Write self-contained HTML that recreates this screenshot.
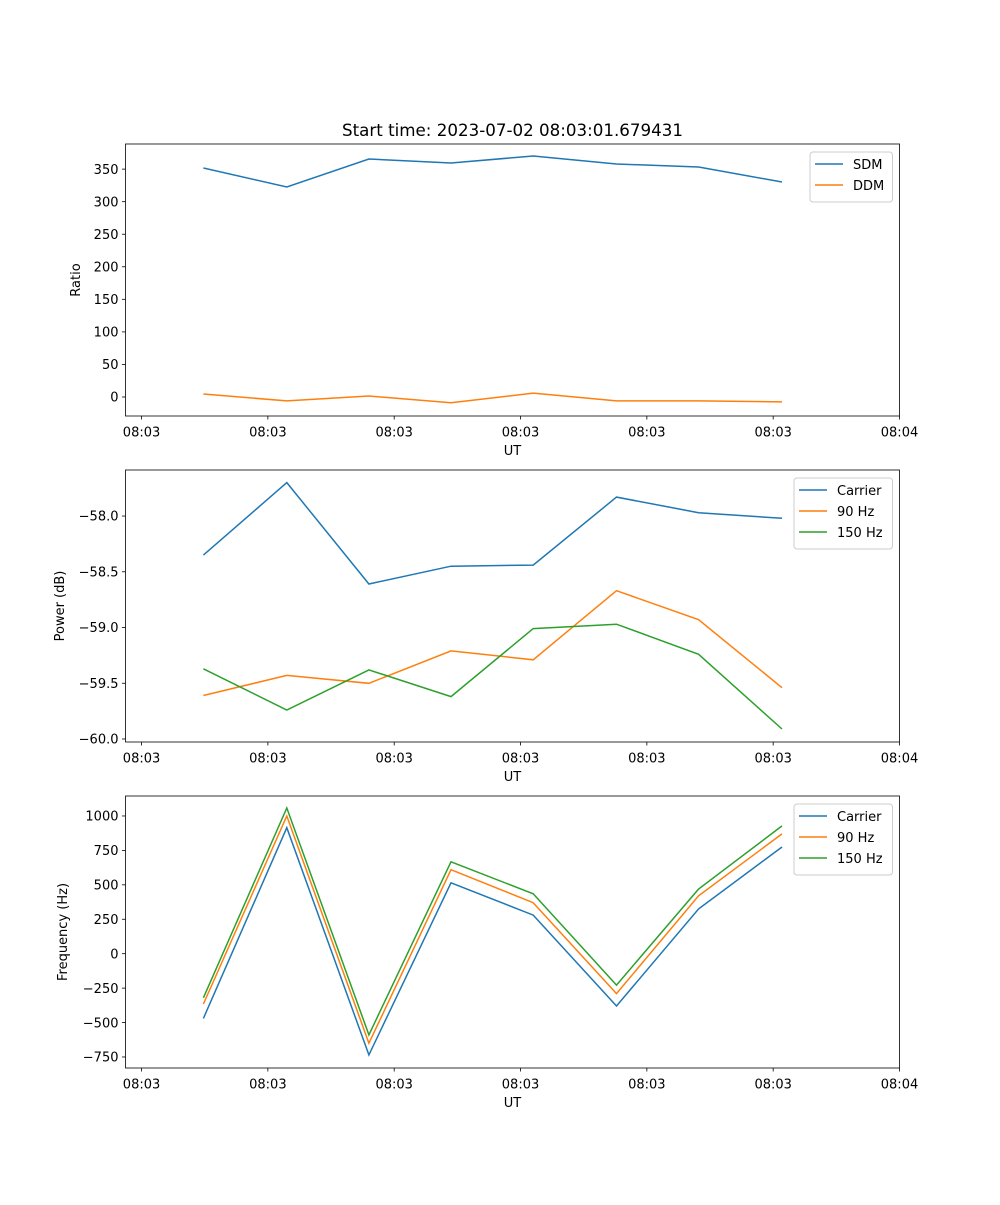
<!DOCTYPE html>
<html><head><meta charset="utf-8"><style>
body{margin:0;background:#fff;}
svg text{font-family:"DejaVu Sans","Liberation Sans",sans-serif;fill:#000;}
</style></head><body>
<svg id="fig" width="1000" height="1200" xmlns="http://www.w3.org/2000/svg">
<rect width="1000" height="1200" fill="#fff"/>
<text x="512.5" y="136" font-size="16.7" text-anchor="middle">Start time: 2023-07-02 08:03:01.679431</text>
</svg>
<script>
const times = [4.9, 11.5, 18.0, 24.5, 31.0, 37.6, 44.1, 50.7];
const xTickVals = [0, 10, 20, 30, 40, 50, 60];
const xTickLabels = ["08:03","08:03","08:03","08:03","08:03","08:03","08:04"];
const sdm = [351.8, 322.6, 365.6, 359.4, 370.2, 357.9, 353.3, 330.3];
const ddm = [4.6, -6, 1.5, -9, 6, -6, -6, -7.5];
const pCarrier = [-58.35, -57.70, -58.61, -58.45, -58.44, -57.83, -57.97, -58.02];
const p90 = [-59.61, -59.43, -59.50, -59.21, -59.29, -58.67, -58.93, -59.54];
const p150 = [-59.37, -59.74, -59.38, -59.62, -59.01, -58.97, -59.24, -59.91];
const fCarrier = [-470, 915, -735, 515, 280, -380, 325, 775];
const f90 = [-365, 1000, -650, 610, 370, -290, 420, 870];
const f150 = [-320, 1058, -590, 667, 435, -228, 470, 928];
const yTicks1 = [0,50,100,150,200,250,300,350];
const yTicks2 = [-60,-59.5,-59,-58.5,-58];
const yTicks3 = [-750,-500,-250,0,250,500,750,1000];

const NS="http://www.w3.org/2000/svg";
const svg=document.getElementById('fig');
function mk(tag,attrs,parent){const e=document.createElementNS(NS,tag);for(const k in attrs)e.setAttribute(k,attrs[k]);(parent||svg).appendChild(e);return e;}
const L=125.5,R=899.5,FS=13.9,TS=13;
const xMin=-1.27,xMax=60.0;
function xs(t){return L+(t-xMin)/(xMax-xMin)*(R-L);}
const C={blue:"#1f77b4",orange:"#ff7f0e",green:"#2ca02c"};

function panel(name,top,bot,yMin,yMax,yTicks,fmt,ylabel,series,legend){
  const g=mk('g',{});
  
  
  const ys=v=>bot-(v-yMin)/(yMax-yMin)*(bot-top);
  series.forEach(s=>{
    const pts=s.vals.map((v,i)=>xs(times[i]).toFixed(1)+','+ys(v).toFixed(1)).join(' ');
    const pl=mk('polyline',{points:pts,fill:'none',stroke:s.color,'stroke-width':1.5},g);
    
    
  });
  const fr=mk('rect',{x:L,y:top,width:R-L,height:bot-top,fill:'none',stroke:'#000','stroke-width':0.8},g);
  
  
  xTickVals.forEach((t,i)=>{
    const x=xs(t);
    mk('line',{x1:x,x2:x,y1:bot,y2:bot+3.5,stroke:'#000','stroke-width':0.8},g);
    const tx=mk('text',{x:x,y:bot+20.5,'font-size':TS,'text-anchor':'middle'},g);
    tx.textContent=xTickLabels[i];
    
    
  });
  yTicks.forEach(v=>{
    const y=ys(v);
    mk('line',{x1:L-3.5,x2:L,y1:y,y2:y,stroke:'#000','stroke-width':0.8},g);
    const tx=mk('text',{x:L-7,y:y+4.7,'font-size':TS,'text-anchor':'end'},g);
    tx.textContent=fmt(v);
    
    
  });
  const xl=mk('text',{x:(L+R)/2,y:bot+39,'font-size':TS,'text-anchor':'middle'},g);
  xl.textContent='UT';
  
  
  const yl=mk('text',{x:0,y:0,'font-size':TS,'text-anchor':'middle',transform:`translate(${legend.ylx},${(top+bot)/2}) rotate(-90)`},g);
  yl.textContent=ylabel;
  
  
  const lg=mk('g',{},g);
  
  
  mk('rect',{x:legend.x,y:top+8,width:R-7-legend.x,height:series.length*21+8,rx:3,fill:'#fff','fill-opacity':0.8,stroke:'#ccc','stroke-width':1},lg);
  series.forEach((s,i)=>{
    const y=top+20+i*21;
    mk('line',{x1:legend.x+5,x2:legend.x+33,y1:y,y2:y,stroke:s.color,'stroke-width':1.5},lg);
    const t=mk('text',{x:legend.x+43,y:y+5,'font-size':TS},lg);
    t.textContent=s.label;
    
    
  });
}
const minus=v=>String(v).replace('-','\u2212');
panel('ratio-panel',144,416,-29.2,388.6,yTicks1,v=>minus(v),'Ratio',
  [{id:'sdm-line',vals:sdm,color:C.blue,label:'SDM'},{id:'ddm-line',vals:ddm,color:C.orange,label:'DDM'}],
  {x:810,ylx:80});
panel('power-panel',470,742,-60.027,-57.587,yTicks2,v=>minus(v.toFixed(1)),'Power (dB)',
  [{id:'carrier-power-line',vals:pCarrier,color:C.blue,label:'Carrier'},{id:'90hz-power-line',vals:p90,color:C.orange,label:'90 Hz'},{id:'150hz-power-line',vals:p150,color:C.green,label:'150 Hz'}],
  {x:794,ylx:64});
panel('frequency-panel',796,1068,-830,1145,yTicks3,v=>minus(v),'Frequency (Hz)',
  [{id:'carrier-freq-line',vals:fCarrier,color:C.blue,label:'Carrier'},{id:'90hz-freq-line',vals:f90,color:C.orange,label:'90 Hz'},{id:'150hz-freq-line',vals:f150,color:C.green,label:'150 Hz'}],
  {x:794,ylx:67});
</script>
</body></html>
